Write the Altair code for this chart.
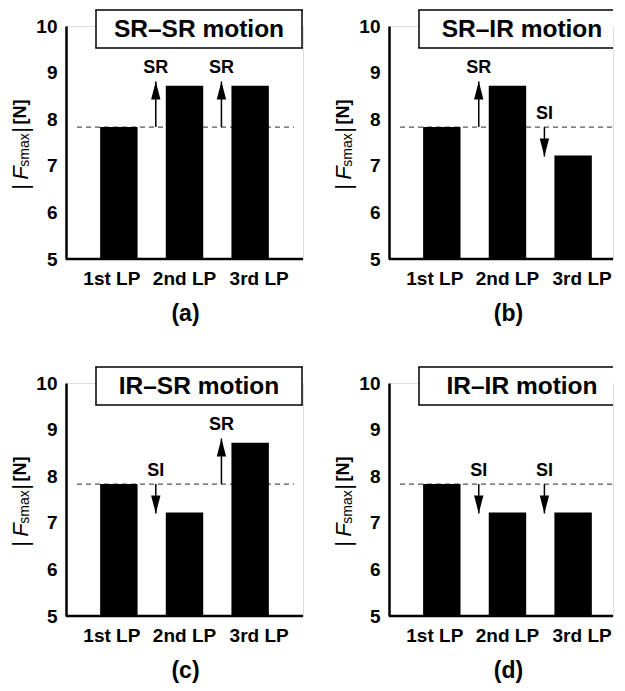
import altair as alt
import pandas as pd

# ---------------- data ----------------
lp_labels = ["1st LP", "2nd LP", "3rd LP"]
panel_tags = ["(a)", "(b)", "(c)", "(d)"]
panel_titles = ["SR–SR motion", "SR–IR motion", "IR–SR motion", "IR–IR motion"]

fsmax_a = [7.83, 8.72, 8.72]
fsmax_b = [7.83, 8.72, 7.22]
fsmax_c = [7.83, 7.22, 8.72]
fsmax_d = [7.83, 7.22, 7.22]
panel_values = [fsmax_a, fsmax_b, fsmax_c, fsmax_d]

reference_level = 7.83          # dashed line = |Fsmax| of 1st LP

arrow_lp = ["2nd LP", "3rd LP"]
arrow_dir_a = ["up", "up"]
arrow_dir_b = ["up", "down"]
arrow_dir_c = ["down", "up"]
arrow_dir_d = ["down", "down"]
panel_arrows = [arrow_dir_a, arrow_dir_b, arrow_dir_c, arrow_dir_d]
arrow_text = {"up": "SR", "down": "SI"}
arrow_tip = {"up": 8.81, "down": 7.20}

y_ticks = [5, 6, 7, 8, 9, 10]

# ---------------- style ----------------
FONT = "Liberation Sans"
H = 233
FULL_W = 237
panel_widths = [237, 224, 237, 224]   # right-hand panels are cut at the page edge

# left panels: full width; right panels: narrower, bands kept at same place
xscale_full = alt.Scale(domain=lp_labels, paddingInner=0.43, paddingOuter=0.52)
xscale_cut = alt.Scale(domain=lp_labels, paddingInner=0.43, paddingOuter=0.421,
                       align=0.617)
yscale = alt.Scale(domain=[5, 10], zero=False, nice=False)


def x_axis(tag):
    return alt.Axis(
        title=tag, labelAngle=0, ticks=False, grid=False, domain=False,
        labelFontSize=19, labelFontWeight="bold", labelPadding=10,
        labelOffset={"condition": [
            {"test": "datum.value === '1st LP'", "value": -7},
            {"test": "datum.value === '3rd LP'", "value": 9}], "value": 0},
        titleFontSize=23, titleFontWeight="bold", titlePadding=14,
        titleX=119,
        labelColor="black", titleColor="black", labelFont=FONT, titleFont=FONT)


y_axis = alt.Axis(title=None, values=y_ticks, ticks=False, grid=False,
                  labelFontSize=19, labelFontWeight="bold", labelPadding=9,
                  domainColor="black", domainWidth=2.5, labelColor="black",
                  labelFont=FONT)


def panel(i):
    tag = panel_tags[i]
    W = panel_widths[i]
    full = W == FULL_W
    xscale = xscale_full if full else xscale_cut
    bars_df = pd.DataFrame({"lp": lp_labels, "val": panel_values[i]})
    dirs = panel_arrows[i]
    arr_df = pd.DataFrame({
        "lp": arrow_lp,
        "dir": dirs,
        "base": [reference_level] * len(dirs),
        "tip": [arrow_tip[d] for d in dirs],
        "label": [arrow_text[d] for d in dirs],
    })
    arr_df["label_y"] = [t if d == "up" else b for d, t, b in
                         zip(arr_df["dir"], arr_df["tip"], arr_df["base"])]

    xa = x_axis(tag)
    X = alt.X("lp:N", scale=xscale, axis=xa, sort=lp_labels)
    X0 = alt.X("lp:N", scale=xscale, axis=xa, sort=lp_labels, bandPosition=0)

    one = pd.DataFrame({"t": [panel_titles[i]]})

    dashed = alt.Chart(one).mark_rule(color="#555555", strokeWidth=1.3,
                                      strokeDash=[5, 4]).encode(
        y=alt.datum(reference_level, scale=yscale, axis=y_axis),
        x=alt.value(11), x2=alt.value(min(228, W)))

    bars = alt.Chart(bars_df).mark_bar(color="black").encode(
        x=X,
        y=alt.Y("val:Q", scale=yscale, axis=y_axis),
        y2=alt.datum(5))

    baseline = alt.Chart(one).mark_rule(color="black", strokeWidth=2.5).encode(
        y=alt.datum(5, scale=yscale, axis=y_axis),
        x=alt.value(0), x2=alt.value(W))

    shafts = alt.Chart(arr_df).mark_rule(color="black", strokeWidth=1.5,
                                         xOffset=-10).encode(
        x=X0,
        y=alt.Y("base:Q", scale=yscale, axis=y_axis),
        y2="tip:Q")

    heads = alt.Chart(arr_df).mark_point(filled=True, color="black", opacity=1,
                                         size=1296, xOffset=-10).encode(
        x=X0,
        y=alt.Y("tip:Q", scale=yscale, axis=y_axis),
        shape=alt.Shape("dir:N", legend=None, scale=alt.Scale(
            domain=["up", "down"],
            range=["M0,0L0.26,1L-0.26,1Z", "M0,0L0.26,-1L-0.26,-1Z"])))

    labels = alt.Chart(arr_df).mark_text(font=FONT, fontSize=18, fontWeight="bold",
                                         color="black", baseline="alphabetic",
                                         dy=-8, xOffset=-10).encode(
        x=X0,
        y=alt.Y("label_y:Q", scale=yscale, axis=y_axis),
        text="label:N")

    # title box: white fill + border (right border only where not cut off)
    bx1, bx2, by1, by2 = 30, W - 1, -16, 22
    box_fill = alt.Chart(one).mark_rect(fill="white").encode(
        x=alt.value(bx1), x2=alt.value(W), y=alt.value(by1), y2=alt.value(by2))
    edge = dict(color="black", strokeWidth=1.5)
    box_edges = [
        alt.Chart(one).mark_rule(**edge).encode(
            x=alt.value(bx1 - 0.75), x2=alt.value(W), y=alt.value(by1)),
        alt.Chart(one).mark_rule(**edge).encode(
            x=alt.value(bx1 - 0.75), x2=alt.value(W), y=alt.value(by2)),
        alt.Chart(one).mark_rule(**edge).encode(
            x=alt.value(bx1), y=alt.value(by1), y2=alt.value(by2)),
    ]
    if full:
        box_edges.append(alt.Chart(one).mark_rule(**edge).encode(
            x=alt.value(bx2), y=alt.value(by1), y2=alt.value(by2)))

    box_text = alt.Chart(one).mark_text(font=FONT, fontSize=24.5, fontWeight="bold",
                                        color="black", baseline="middle",
                                        align="center").encode(
        x=alt.value(133), y=alt.value(4), text="t:N")

    # y-axis title |F_smax| [N] built from pieces (rotated)
    def piece(txt, ypix, xpix, size, weight="normal", style="normal"):
        return alt.Chart(one).mark_text(text=txt, angle=270, font=FONT,
                                        fontSize=size, fontWeight=weight,
                                        fontStyle=style, color="black",
                                        baseline="middle", align="center").encode(
            x=alt.value(xpix), y=alt.value(ypix))

    ytitle = [
        piece("|", 161, -45, 22),
        piece("F", 147, -45, 22, style="italic"),
        piece("smax", 124, -41, 14),
        piece("|", 104, -45, 22),
        piece("[N]", 86, -45, 18, weight="bold"),
    ]

    return alt.layer(dashed, bars, baseline, shafts, heads, labels, box_fill,
                     *box_edges, box_text, *ytitle).properties(width=W, height=H)


chart = alt.concat(
    *[panel(i) for i in range(4)],
    columns=2,
    spacing={"row": 124, "column": 86},
    bounds="flush",
).properties(
    padding={"left": 1, "top": 0, "right": 0, "bottom": 0}
).configure_view(stroke=None).configure(font=FONT)

chart.save("out.html", embed_options={"renderer": "svg", "actions": False})
